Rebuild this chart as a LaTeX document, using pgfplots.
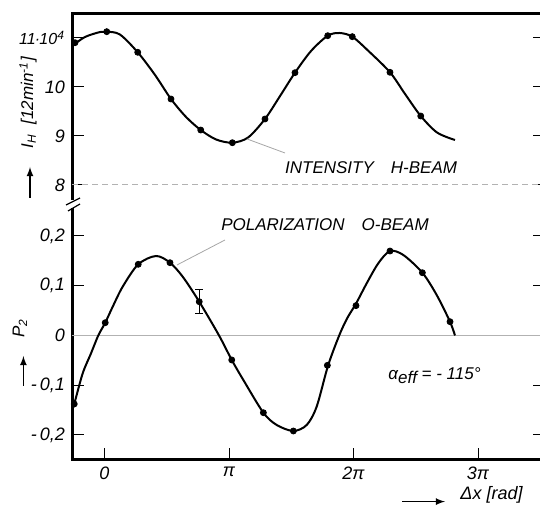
\documentclass[border=0pt]{standalone}
\usepackage{fontspec}
\setmainfont{Liberation Sans}
\usepackage{pgfplots}
\pgfplotsset{compat=1.18}

\pgfplotsset{
  panel/.style={
    scale only axis, width=236.5pt,
    xmin=-0.261, xmax=3.538,
    axis line style={draw=none},
    tick align=inside, major tick length=6pt,
    tick style={black, line width=0.5pt},
    ytick pos=both, xtick pos=bottom,
    ticklabel style={font=\fontsize{9}{10}\selectfont\itshape},
    clip=false,
  },
  curve/.style={black, line width=1pt, smooth},
  dots/.style={only marks, mark=*, mark size=1.5pt, black},
}

\begin{document}
\begin{tikzpicture}
\useasboundingbox (0pt,0pt) rectangle (270pt,253pt);
\clip (0pt,0pt) rectangle (270pt,253pt);

% upper panel: intensity of the H beam
\begin{axis}[panel, at={(36pt,153pt)}, anchor=south west, height=93pt,
  ymin=7.694, ymax=11.49,
  xtick=\empty,
  ytick={8,9,10,11},
  yticklabels={8,9,10,{\fontsize{8}{9}\selectfont 11\kern-0.05em·\kern-0.05em10\textsuperscript{4}}}]
\draw[line width=1.5pt] (rel axis cs:0,0) -- (rel axis cs:0,1) -- (rel axis cs:1,1);
\addplot[gray!60, line width=0.5pt, densely dashed] coordinates {(-0.261,8) (3.538,8)};
\addplot[curve] coordinates {
  (-0.261,10.837) (-0.157,11.020) (-0.036,11.122) (0.018,11.129) (0.124,11.071)
  (0.267,10.708) (0.406,10.245) (0.534,9.755) (0.655,9.388) (0.773,9.122)
  (0.896,8.929) (1.027,8.863) (1.153,8.969) (1.289,9.347) (1.410,9.816)
  (1.530,10.292) (1.659,10.735) (1.793,11.047) (1.888,11.102) (1.990,11.027)
  (2.120,10.735) (2.293,10.300) (2.414,9.857) (2.540,9.408) (2.671,9.071)
  (2.815,8.918)};
\addplot[dots] coordinates {
  (-0.237,10.904) (0.018,11.129) (0.267,10.708) (0.534,9.755) (0.773,9.122)
  (1.027,8.863) (1.289,9.347) (1.530,10.292) (1.793,11.047) (1.990,11.027)
  (2.293,10.300) (2.540,9.408)};
\draw[gray!70, line width=0.4pt] (axis cs:1.145,8.939) -- (axis cs:1.450,8.653);
\node[font=\fontsize{8.5}{10}\selectfont\itshape] at (axis cs:2.141,8.347)
  {INTENSITY\quad H-BEAM};
\end{axis}

% lower panel: polarization of the O beam
\begin{axis}[panel, at={(36pt,23pt)}, anchor=south west, height=126pt,
  ymin=-0.2503, ymax=0.2563,
  xtick={0,1,2,3},
  xticklabels={0,π,2π,3π},
  ytick={-0.2,-0.1,0,0.1,0.2},
  yticklabels={{-\,0,2},{-\,0,1},0,{0,1},{0,2}}]
\draw[line width=1.5pt] (rel axis cs:0,1) -- (rel axis cs:0,0) -- (rel axis cs:1,0);
\addplot[gray!60, line width=0.5pt] coordinates {(-0.261,0) (3.538,0)};
\addplot[curve] coordinates {
  (-0.259,-0.1487) (-0.243,-0.1377) (-0.175,-0.0760) (-0.108,-0.0358) (-0.050,0)
  (0.006,0.0257) (0.066,0.0579) (0.146,0.0981) (0.271,0.1431) (0.414,0.1598)
  (0.526,0.1463) (0.628,0.1182) (0.761,0.0679) (0.920,0)
  (1.022,-0.0492) (1.115,-0.0894) (1.276,-0.1552) (1.383,-0.1799) (1.517,-0.1920)
  (1.624,-0.1799) (1.704,-0.1431) (1.795,-0.0610) (1.885,0) (1.950,0.0350)
  (2.020,0.0640) (2.106,0.1049) (2.199,0.1451) (2.293,0.1698) (2.400,0.1618)
  (2.553,0.1262) (2.668,0.0814) (2.775,0.0277) (2.815,0)};
\addplot[dots] coordinates {
  (-0.243,-0.1377) (0.006,0.0257) (0.271,0.1431) (0.526,0.1463)
  (1.022,-0.0492) (1.276,-0.1552) (1.517,-0.1920) (1.790,-0.0600)
  (2.020,0.0600) (2.293,0.1698) (2.553,0.1262) (2.775,0.0277)};
\addplot[dots, error bars/.cd, y dir=both, y explicit,
  error bar style={line width=0.5pt}, error mark options={rotate=90, mark size=2pt, line width=0.5pt}]
  coordinates {(0.761,0.0679) +- (0,0.024)};
\draw[gray!70, line width=0.4pt] (axis cs:0.968,0.192) -- (axis cs:0.582,0.1417);
\node[font=\fontsize{8.5}{10}\selectfont\itshape] at (axis cs:1.771,0.2235)
  {POLARIZATION\quad O-BEAM};
\node[font=\fontsize{8.5}{10}\selectfont\itshape, anchor=west, inner sep=0pt] at (axis cs:2.277,-0.0804)
  {α\raisebox{-0.5ex}{eff} = - 115°};
\end{axis}

% break marks on the y axis
\draw[line width=0.6pt] (33pt,150.5pt) -- (40pt,154pt);
\draw[line width=0.6pt] (34pt,147.5pt) -- (40pt,151pt);

% axis labels
\node[rotate=90, font=\fontsize{8.5}{10}\selectfont\itshape] at (14pt,201.75pt)
  {I\textsubscript{H}\;\;[12min\textsuperscript{-1}]};
\draw[-latex, line width=0.6pt] (15pt,154pt) -- (15pt,169.5pt);
\node[rotate=90, font=\fontsize{8.5}{10}\selectfont\itshape] at (10pt,89pt) {P\textsubscript{2}};
\draw[-latex, line width=0.6pt] (11.7pt,60pt) -- (11.7pt,75pt);
\draw[-latex, line width=0.6pt] (201pt,2.2pt) -- (222.5pt,2.2pt);
\node[font=\fontsize{9}{10}\selectfont\itshape] at (245.75pt,5.5pt) {Δx [rad]};
\end{tikzpicture}
\end{document}
